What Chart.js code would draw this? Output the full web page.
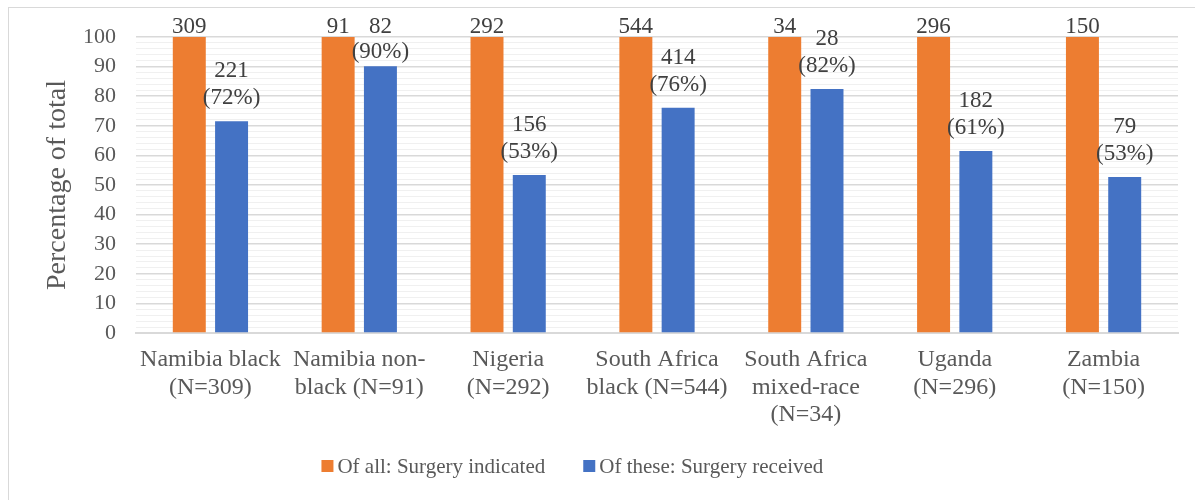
<!DOCTYPE html>
<html>
<head>
<meta charset="utf-8">
<script src="https://cdn.jsdelivr.net/npm/chart.js@4.4.1/dist/chart.umd.min.js"></script>
<style>
  html, body { margin: 0; padding: 0; background: #fff; }
  #wrap { position: relative; width: 1195px; height: 500px; overflow: hidden; }
  #frame { position: absolute; left: 8px; top: 7px; width: 1300px; height: 600px; border: 1px solid #d9d9d9; box-sizing: border-box; }
  #chart { position: absolute; left: 0; top: 0; }
</style>
</head>
<body>
<div id="wrap">
  <div id="frame"></div>
  <canvas id="chart" width="1195" height="500"></canvas>
</div>
<script>
const categories = [
  ['Namibia black', '(N=309)'],
  ['Namibia non-', 'black (N=91)'],
  ['Nigeria', '(N=292)'],
  ['South Africa', 'black (N=544)'],
  ['South Africa', 'mixed-race', '(N=34)'],
  ['Uganda', '(N=296)'],
  ['Zambia', '(N=150)'],
];

const indicatedPct = [100, 100, 100, 100, 100, 100, 100];
const receivedPct = [71.5, 90.1, 53.4, 76.1, 82.4, 61.5, 52.7];

const indicatedLabels = [['309'], ['91'], ['292'], ['544'], ['34'], ['296'], ['150']];
const receivedLabels = [
  ['221', '(72%)'],
  ['82', '(90%)'],
  ['156', '(53%)'],
  ['414', '(76%)'],
  ['28', '(82%)'],
  ['182', '(61%)'],
  ['79', '(53%)'],
];

const serif = "'Liberation Serif', 'Times New Roman', serif";
const textGrey = '#595959';

// count labels above each bar, two lines for the blue ones
const barLabels = {
  id: 'barLabels',
  afterDatasetsDraw(chart) {
    const { ctx } = chart;
    const sets = [indicatedLabels, receivedLabels];
    const lineH = 27;
    ctx.save();
    ctx.font = `23px ${serif}`;
    ctx.fillStyle = '#404040';
    ctx.textAlign = 'center';
    ctx.textBaseline = 'middle';
    sets.forEach((labels, di) => {
      chart.getDatasetMeta(di).data.forEach((bar, i) => {
        const lines = labels[i];
        let firstY = bar.y - 11 - (lines.length - 1) * lineH - (lines.length > 1 ? 12 : 0);
        firstY = Math.max(firstY, 27);
        const step = lines.length > 1 && firstY === 27 ? Math.min(lineH, (bar.y - 14 - firstY) / (lines.length - 1)) : lineH;
        lines.forEach((txt, li) => ctx.fillText(txt, bar.x, firstY + li * step));
      });
    });
    ctx.restore();
  },
};

// legend drawn by hand so the swatch sits tight to its text, like the original
const sideLegend = {
  id: 'sideLegend',
  afterDraw(chart) {
    const { ctx } = chart;
    const box = 12;
    const gap = 4;
    const spacing = 38;
    ctx.save();
    ctx.font = `21px ${serif}`;
    ctx.textBaseline = 'middle';
    const items = chart.data.datasets.map((ds) => ({
      text: ds.label,
      color: ds.backgroundColor,
      w: box + gap + ctx.measureText(ds.label).width,
    }));
    const total = items.reduce((s, it) => s + it.w, 0) + spacing * (items.length - 1);
    let x = chart.width * 0.479 - total / 2;
    const y = 466;
    items.forEach((it) => {
      ctx.fillStyle = it.color;
      ctx.fillRect(x, y - box / 2, box, box);
      ctx.fillStyle = textGrey;
      ctx.fillText(it.text, x + box + gap, y + 1);
      x += it.w + spacing;
    });
    ctx.restore();
  },
};

new Chart(document.getElementById('chart'), {
  type: 'bar',
  data: {
    labels: categories,
    datasets: [
      {
        label: 'Of all: Surgery indicated',
        data: indicatedPct,
        backgroundColor: '#ed7d31',
        categoryPercentage: 0.568,
        barPercentage: 0.78,
      },
      {
        label: 'Of these: Surgery received',
        data: receivedPct,
        backgroundColor: '#4472c4',
        categoryPercentage: 0.568,
        barPercentage: 0.78,
      },
    ],
  },
  options: {
    responsive: false,
    animation: false,
    layout: { padding: { left: 10, right: 17, top: 37, bottom: 54 } },
    plugins: {
      legend: { display: false },
      tooltip: { enabled: false },
    },
    scales: {
      x: {
        grid: { display: false },
        border: { color: '#d9d9d9', width: 2 },
        ticks: {
          color: textGrey,
          font: { family: serif, size: 24, lineHeight: 1.15 },
          padding: 5,
          maxRotation: 0,
          autoSkip: false,
        },
        afterFit(scale) { scale.height = 113; },
      },
      y: {
        min: 0,
        max: 100,
        grid: {
          drawTicks: false,
          color: (c) => (c.tick && c.tick.value % 10 === 0 ? '#d9d9d9' : '#f0f0f0'),
          lineWidth: (c) => (c.tick && c.tick.value % 10 === 0 ? 1.5 : 1),
        },
        border: { display: false },
        ticks: {
          stepSize: 2,
          autoSkip: false,
          padding: 20,
          color: textGrey,
          font: { family: serif, size: 22 },
          callback: (v) => (v % 10 === 0 ? v : ''),
        },
        title: {
          display: true,
          text: 'Percentage of total',
          color: textGrey,
          font: { family: serif, size: 28 },
          padding: { top: 31, bottom: 0 },
        },
        afterFit(scale) { scale.width = 126; },
      },
    },
  },
  plugins: [barLabels, sideLegend],
});
</script>
</body>
</html>
